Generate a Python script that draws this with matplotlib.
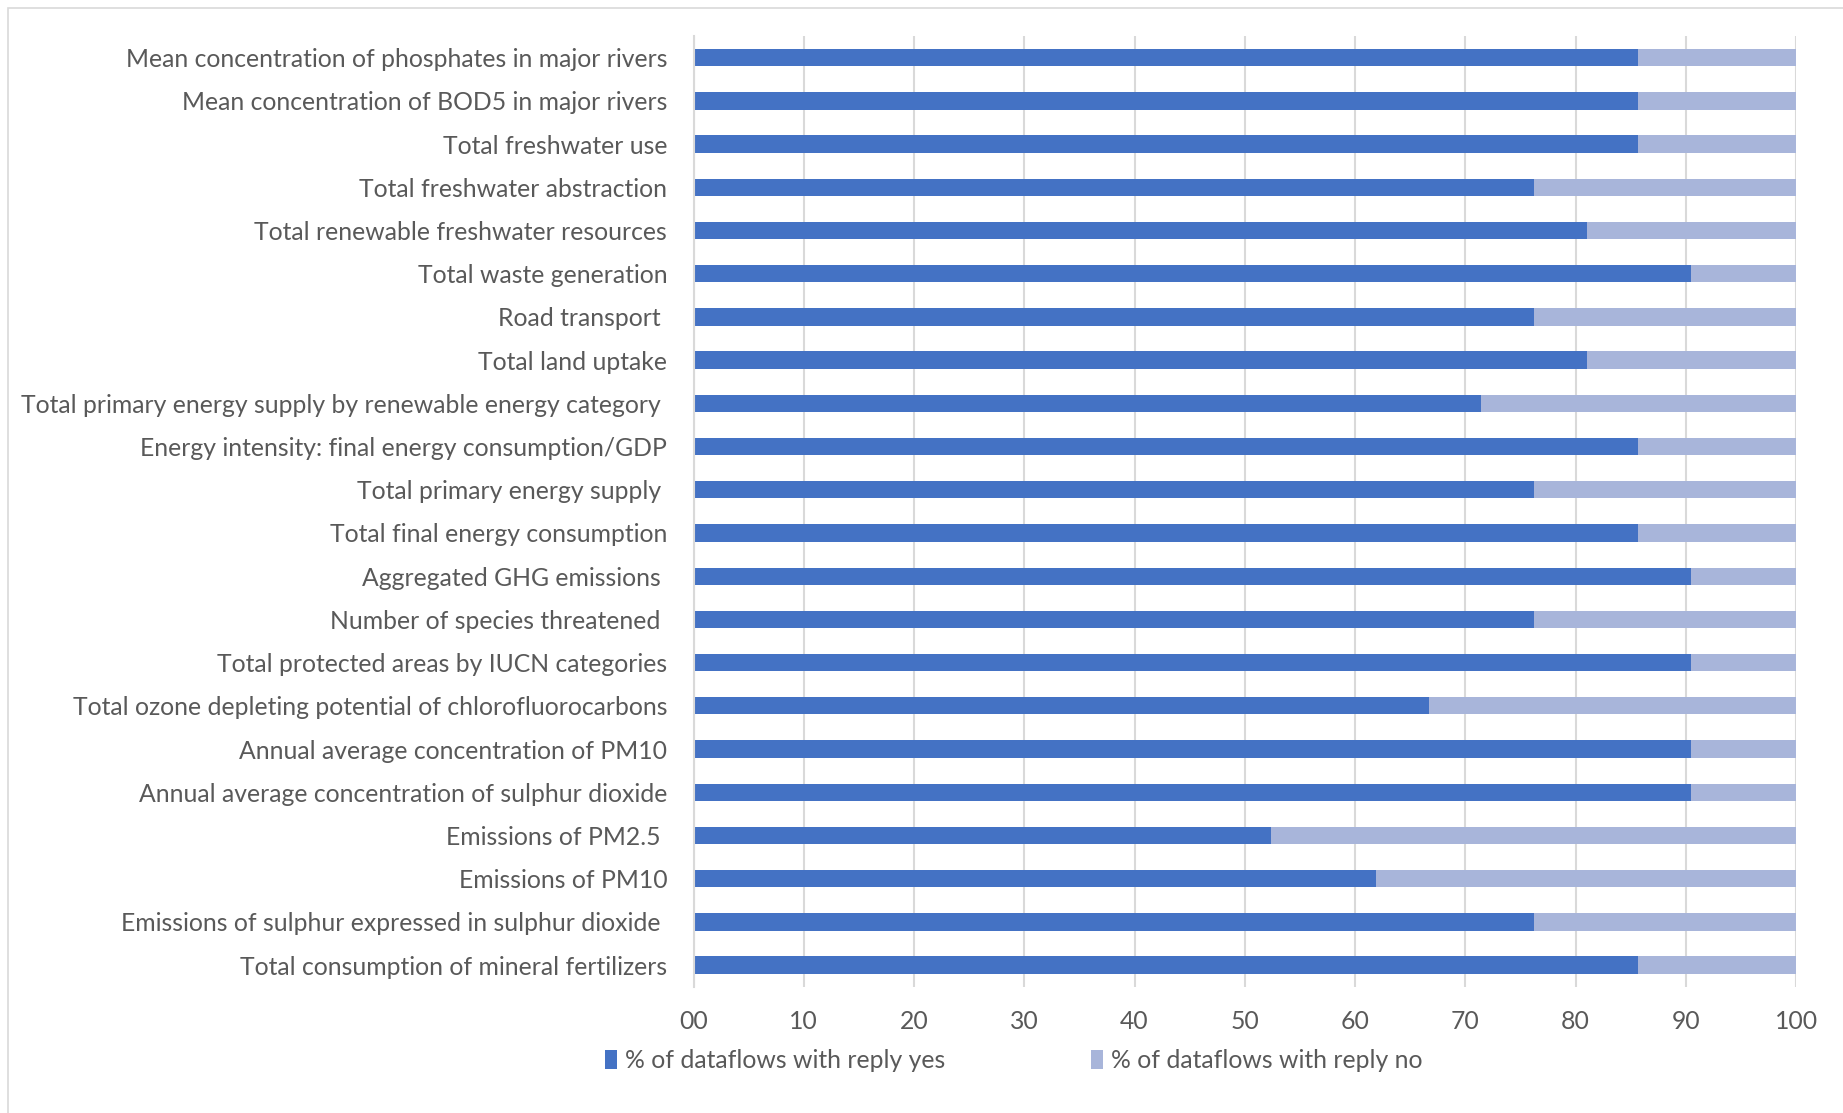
import numpy as np
import matplotlib.pyplot as plt
from matplotlib.patches import Rectangle

plt.rcParams['font.family'] = ['Lato', 'DejaVu Sans']

indicators = [
    "Mean concentration of phosphates in major rivers",
    "Mean concentration of BOD5 in major rivers",
    "Total freshwater use",
    "Total freshwater abstraction",
    "Total renewable freshwater resources",
    "Total waste generation",
    "Road transport ",
    "Total land uptake",
    "Total primary energy supply by renewable energy category ",
    "Energy intensity: final energy consumption/GDP",
    "Total primary energy supply ",
    "Total final energy consumption",
    "Aggregated GHG emissions ",
    "Number of species threatened ",
    "Total protected areas by IUCN categories",
    "Total ozone depleting potential of chlorofluorocarbons",
    "Annual average concentration of PM10",
    "Annual average concentration of sulphur dioxide",
    "Emissions of PM2.5 ",
    "Emissions of PM10",
    "Emissions of sulphur expressed in sulphur dioxide ",
    "Total consumption of mineral fertilizers",
]
# share of the 21 dataflows answering yes
yes_pct = [85.7, 85.7, 85.7, 76.2, 81.0, 90.5, 76.2, 81.0, 71.4, 85.7, 76.2,
           85.7, 90.5, 76.2, 90.5, 66.7, 90.5, 90.5, 52.4, 61.9, 76.2, 85.7]
no_pct = [100 - v for v in yes_pct]
xticks = list(range(0, 101, 10))
xtick_labels = ["00"] + [str(t) for t in xticks[1:]]

blue = "#4472C4"
light = "#A8B5DA"
grey_text = "#595959"
fs = 17.8

fig = plt.figure(figsize=(18.43, 11.13), dpi=100)
ax = fig.add_axes([0.3763, 0.1135, 0.5982, 0.8541])

y = np.arange(len(indicators))
ax.barh(y, yes_pct, height=0.4, color=blue, label="% of dataflows with reply yes", zorder=3)
ax.barh(y, no_pct, left=yes_pct, height=0.4, color=light,
        label="% of dataflows with reply no", zorder=3)

ax.set_ylim(len(indicators) - 0.5, -0.5)
ax.set_xlim(0, 100)
ax.set_yticks(y)
ax.set_yticklabels(indicators, fontsize=fs, color=grey_text)
ax.set_xticks(xticks)
ax.set_xticklabels(xtick_labels, fontsize=fs, color=grey_text)
ax.tick_params(axis='both', length=0)
ax.tick_params(axis='x', pad=17)
ax.tick_params(axis='y', pad=19)

ax.grid(axis='x', color="#D9D9D9", linewidth=1.5, zorder=0)
for s in ["top", "right", "bottom"]:
    ax.spines[s].set_visible(False)
ax.spines["left"].set_color("#D9D9D9")
ax.spines["left"].set_linewidth(1.5)
ax.spines["left"].set_zorder(4)

fig.legend(loc="center", bbox_to_anchor=(0.550, 0.047), ncol=2, frameon=False,
           fontsize=fs, labelcolor=grey_text, handlelength=0.5, handleheight=0.8,
           handletextpad=0.3, columnspacing=5.9)

# light frame around the chart area
fig.patches.append(Rectangle((0.0045, -0.1), 1.2, 1.093, transform=fig.transFigure,
                             fill=False, edgecolor="#D9D9D9", linewidth=1.2))

fig.savefig("out.png", dpi=100)
